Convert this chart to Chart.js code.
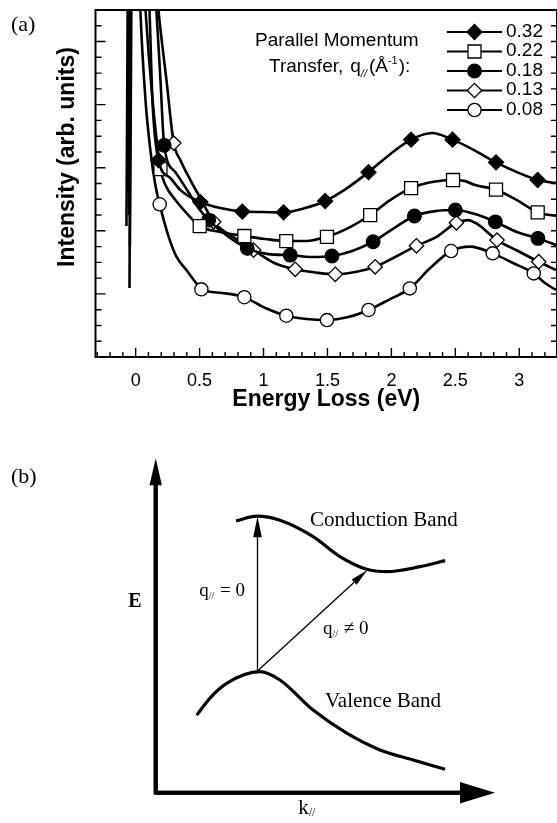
<!DOCTYPE html>
<html>
<head>
<meta charset="utf-8">
<script src="https://cdn.jsdelivr.net/npm/chart.js@4.4.1/dist/chart.umd.min.js"></script>
<style>
  body { margin: 0; background: #fff; }
  canvas { position: absolute; left: 0; }
  #spectra { top: 0; }
  #bands { top: 430px; }
</style>
</head>
<body>
<canvas id="spectra" width="557" height="430"></canvas>
<canvas id="bands" width="557" height="393"></canvas>
<script>
// ---- (a) loss spectra: energy loss (eV) vs intensity (arb. units) ----
const qLabels = ['0.32', '0.22', '0.18', '0.13', '0.08'];

const e032 = [-0.055, -0.04, 0.108, 0.131, 0.178, 0.272, 0.35, 0.428, 0.506, 0.662, 0.834, 0.99, 1.157, 1.326, 1.482, 1.654, 1.821, 1.99, 2.154, 2.318, 2.478, 2.646, 2.818, 2.982, 3.144, 3.287];
const i032 = [10.5, 40, 22, 16.3, 12.48, 11.34, 10.58, 10.14, 9.82, 9.44, 9.22, 9.19, 9.17, 9.44, 9.89, 10.71, 11.72, 12.86, 13.78, 14.2, 13.78, 13.12, 12.34, 11.72, 11.22, 11.03];
const m032 = [0.178, 0.506, 0.834, 1.157, 1.482, 1.821, 2.154, 2.478, 2.818, 3.144];

const e022 = [-0.072, -0.045, 0.077, 0.13, 0.194, 0.233, 0.311, 0.405, 0.501, 0.662, 0.85, 1.014, 1.178, 1.334, 1.496, 1.662, 1.834, 1.99, 2.154, 2.318, 2.482, 2.576, 2.654, 2.818, 2.982, 3.144, 3.287];
const i022 = [8.3, 40, 22, 16.5, 11.91, 10.9, 9.95, 9.06, 8.3, 7.92, 7.67, 7.48, 7.35, 7.35, 7.62, 8.17, 9.0, 9.95, 10.71, 11.09, 11.22, 11.15, 10.9, 10.61, 9.95, 9.17, 8.94];
const m022 = [0.194, 0.501, 0.85, 1.178, 1.496, 1.834, 2.154, 2.482, 2.818, 3.144];

const e018 = [-0.05, -0.025, 0.162, 0.194, 0.223, 0.311, 0.412, 0.491, 0.571, 0.717, 0.873, 1.037, 1.209, 1.373, 1.535, 1.693, 1.857, 2.021, 2.18, 2.342, 2.5, 2.654, 2.813, 2.982, 3.146, 3.287];
const i018 = [9.0, 40, 22, 17.55, 13.42, 11.72, 10.46, 9.44, 8.68, 7.67, 6.89, 6.52, 6.46, 6.34, 6.4, 6.72, 7.31, 8.17, 8.94, 9.25, 9.32, 9.06, 8.57, 7.92, 7.52, 7.1];
const m018 = [0.223, 0.571, 0.873, 1.209, 1.535, 1.857, 2.18, 2.5, 2.813, 3.146];

const e013 = [-0.045, -0.015, 0.178, 0.241, 0.298, 0.35, 0.428, 0.506, 0.61, 0.764, 0.922, 1.084, 1.248, 1.404, 1.561, 1.717, 1.873, 2.029, 2.196, 2.349, 2.508, 2.599, 2.67, 2.826, 2.99, 3.152, 3.287];
const i013 = [7.0, 40, 22, 17.55, 13.56, 12.48, 11.22, 10.08, 8.57, 7.6, 6.78, 5.96, 5.56, 5.36, 5.24, 5.39, 5.72, 6.34, 7.05, 7.6, 8.51, 8.68, 8.44, 7.41, 6.72, 6.04, 5.51];
const m013 = [0.298, 0.61, 0.922, 1.248, 1.561, 1.873, 2.196, 2.508, 2.826, 3.152];

const e008 = [-0.048, -0.03, 0.037, 0.077, 0.115, 0.154, 0.188, 0.254, 0.319, 0.397, 0.475, 0.514, 0.678, 0.85, 1.014, 1.178, 1.334, 1.496, 1.662, 1.821, 1.975, 2.144, 2.303, 2.467, 2.615, 2.792, 2.951, 3.113, 3.201, 3.287];
const i008 = [4.37, 40, 22, 16.29, 13.12, 10.9, 9.68, 7.73, 6.36, 5.51, 4.67, 4.29, 4.06, 3.79, 3.11, 2.62, 2.41, 2.34, 2.53, 2.98, 3.61, 4.35, 5.64, 6.72, 7.0, 6.57, 5.96, 5.3, 4.69, 4.25];
const m008 = [0.188, 0.514, 0.85, 1.178, 1.496, 1.821, 2.144, 2.467, 2.792, 3.113];

const xTickVals = [0, 0.5, 1, 1.5, 2, 2.5, 3];
const xTickLabels = ['0', '0.5', '1', '1.5', '2', '2.5', '3'];

// ---- (b) band schematic (k// vs E, arbitrary units) ----
const cbK = [2.37, 2.98, 3.66, 4.64, 5.43, 6.22, 6.81, 7.79, 8.53];
const cbE = [8.13, 8.27, 8.15, 7.66, 7.06, 6.68, 6.61, 6.76, 6.94];
const vbK = [1.21, 1.6, 2.09, 3.07, 3.66, 4.64, 5.63, 6.61, 7.59, 8.53];
const vbE = [2.32, 2.83, 3.27, 3.62, 3.37, 2.47, 1.78, 1.28, 0.98, 0.70];
const kAxisEnd = 10;
const eAxisEnd = 10;
const transStart = [3.0, 3.64];
const directEnd = [3.0, 8.27];
const indirectEnd = [6.24, 6.66];

const sans = '"Liberation Sans", Arial, Helvetica, sans-serif';
const serif = '"Liberation Serif", "Times New Roman", serif';

const series = [
  { label: qLabels[0], e: e032, v: i032, m: m032, style: 'rectRot', r: 7.5, fill: '#000' },
  { label: qLabels[1], e: e022, v: i022, m: m022, style: 'rect', r: 9.2, fill: '#fff' },
  { label: qLabels[2], e: e018, v: i018, m: m018, style: 'circle', r: 6.8, fill: '#000' },
  { label: qLabels[3], e: e013, v: i013, m: m013, style: 'rectRot', r: 7.2, fill: '#fff' },
  { label: qLabels[4], e: e008, v: i008, m: m008, style: 'circle', r: 6.6, fill: '#fff' }
];

function drawMarker(ctx, s, x, y) {
  ctx.fillStyle = s.fill;
  ctx.strokeStyle = '#000';
  ctx.lineWidth = 1.3;
  Chart.helpers.drawPoint(ctx, { pointStyle: s.style, radius: s.r, borderWidth: 1.3, rotation: 0 }, x, y);
}

// draws a row of text pieces (for sub/superscripts)
function drawRuns(ctx, x, y, runs) {
  ctx.textAlign = 'left';
  ctx.textBaseline = 'alphabetic';
  runs.forEach(r => {
    ctx.font = r.font;
    x += r.dx || 0;
    ctx.fillText(r.text, x, y + (r.dy || 0));
    x += ctx.measureText(r.text).width;
  });
}

// frame, inward ticks, legend and free text of panel (a)
const spectraDecor = {
  id: 'spectraDecor',
  afterDatasetsDraw(chart) {
    const { ctx, chartArea: a, scales: { x, y } } = chart;
    ctx.save();
    ctx.strokeStyle = '#000';
    ctx.fillStyle = '#000';
    ctx.lineWidth = 2;
    ctx.strokeRect(a.left, a.top, a.right - a.left, a.bottom - a.top);

    ctx.lineWidth = 1.4;
    ctx.beginPath();
    for (let k = Math.ceil(x.min * 10); k <= Math.floor(x.max * 10); k++) {
      const px = x.getPixelForValue(k / 10);
      const len = k % 5 === 0 ? 9 : 5;
      ctx.moveTo(px, a.bottom);
      ctx.lineTo(px, a.bottom - len);
    }
    for (let k = 1; k < y.max; k++) {
      const py = y.getPixelForValue(k);
      const len = k % 4 === 0 ? 10 : 6;
      ctx.moveTo(a.left, py);
      ctx.lineTo(a.left + len, py);
      ctx.moveTo(a.right, py);
      ctx.lineTo(a.right - 6, py);
    }
    ctx.stroke();

    // legend
    const rowY = [32, 51.5, 71, 90.5, 110];
    series.forEach((s, i) => {
      ctx.strokeStyle = '#000';
      ctx.lineWidth = 2;
      ctx.beginPath();
      ctx.moveTo(447, rowY[i]);
      ctx.lineTo(502, rowY[i]);
      ctx.stroke();
      drawMarker(ctx, s, 474.5, rowY[i]);
      ctx.fillStyle = '#000';
      ctx.font = '19px ' + sans;
      ctx.textAlign = 'left';
      ctx.textBaseline = 'middle';
      ctx.fillText(s.label, 506, rowY[i] - 0.5);
    });

    ctx.fillStyle = '#000';
    ctx.font = '19px ' + sans;
    ctx.textAlign = 'left';
    ctx.textBaseline = 'alphabetic';
    ctx.fillText('Parallel Momentum', 255, 46);
    drawRuns(ctx, 269, 72, [
      { text: 'Transfer,', font: '19px ' + sans },
      { text: 'q', font: '19px ' + sans, dx: 7 },
      { text: '//', font: 'italic 11px ' + sans, dy: 5 },
      { text: '(Å', font: '19px ' + sans, dx: 2 },
      { text: '-1', font: '11px ' + sans, dy: -8 },
      { text: '):', font: '19px ' + sans, dx: 1 }
    ]);

    // panel letter and rotated y title
    ctx.font = '22px ' + serif;
    ctx.textBaseline = 'middle';
    ctx.fillText('(a)', 11, 25);
    ctx.save();
    ctx.translate(68, 157);
    ctx.rotate(-Math.PI / 2);
    ctx.textAlign = 'center';
    ctx.font = 'bold 23px ' + sans;
    ctx.fillText('Intensity (arb. units)', 0, 0);
    ctx.restore();
    ctx.restore();
  }
};

new Chart(document.getElementById('spectra'), {
  type: 'scatter',
  data: {
    datasets: series.map(s => ({
      label: s.label,
      data: s.e.map((e, i) => ({ x: e, y: s.v[i] })),
      showLine: true,
      borderColor: '#000',
      borderWidth: 2.6,
      cubicInterpolationMode: 'monotone',
      pointStyle: s.style,
      pointBackgroundColor: s.fill,
      pointBorderColor: '#000',
      pointBorderWidth: 1.3,
      pointRadius: ctx => (ctx.raw && s.m.includes(ctx.raw.x)) ? s.r : 0,
      pointHoverRadius: 0
    }))
  },
  options: {
    responsive: false,
    animation: false,
    events: [],
    layout: { padding: { top: 10, right: 0, left: 0, bottom: 0 } },
    plugins: { legend: { display: false }, tooltip: { enabled: false } },
    scales: {
      x: {
        type: 'linear',
        min: -0.314,
        max: 3.295,
        afterBuildTicks: s => { s.ticks = xTickVals.map(v => ({ value: v })); },
        afterFit: s => { s.height = 73; },
        grid: { display: false, drawTicks: false },
        border: { display: false },
        ticks: {
          color: '#000',
          padding: 13,
          maxRotation: 0,
          font: { family: sans, size: 18 },
          callback: (v, i) => xTickLabels[i]
        },
        title: {
          display: true,
          text: 'Energy Loss (eV)',
          color: '#000',
          font: { family: sans, size: 23, weight: 'bold' },
          padding: { top: 0, bottom: 17 }
        }
      },
      y: {
        type: 'linear',
        min: 0,
        max: 22,
        afterFit: s => { s.width = 95.5; },
        grid: { display: false, drawTicks: false },
        border: { display: false },
        ticks: { display: false }
      }
    }
  },
  plugins: [spectraDecor]
});

// arrows and labels of panel (b)
function arrow(ctx, x0, y0, x1, y1, width, headLen, headHalf) {
  const ang = Math.atan2(y1 - y0, x1 - x0);
  const bx = x1 - Math.cos(ang) * headLen;
  const by = y1 - Math.sin(ang) * headLen;
  ctx.lineWidth = width;
  ctx.beginPath();
  ctx.moveTo(x0, y0);
  ctx.lineTo(bx, by);
  ctx.stroke();
  ctx.beginPath();
  ctx.moveTo(x1, y1);
  ctx.lineTo(bx + Math.sin(ang) * headHalf, by - Math.cos(ang) * headHalf);
  ctx.lineTo(bx - Math.sin(ang) * headHalf, by + Math.cos(ang) * headHalf);
  ctx.closePath();
  ctx.fill();
}

const bandDecor = {
  id: 'bandDecor',
  afterDatasetsDraw(chart) {
    const { ctx, scales: { x, y } } = chart;
    const px = v => x.getPixelForValue(v);
    const py = v => y.getPixelForValue(v);
    ctx.save();
    ctx.strokeStyle = '#000';
    ctx.fillStyle = '#000';
    ctx.lineCap = 'butt';
    ctx.lineJoin = 'miter';

    // axes with heads
    const ox = px(0), oy = py(0);
    ctx.lineWidth = 4;
    ctx.beginPath();
    ctx.moveTo(ox, py(eAxisEnd) + 26);
    ctx.lineTo(ox, oy);
    ctx.lineTo(px(kAxisEnd) - 34, oy);
    ctx.stroke();
    arrow(ctx, ox, oy, ox, py(eAxisEnd), 4, 27, 6.2);
    arrow(ctx, ox, oy, px(kAxisEnd), oy, 4, 35, 10.8);

    // transitions
    arrow(ctx, px(transStart[0]), py(transStart[1]), px(directEnd[0]), py(directEnd[1]), 1.3, 21, 4.3);
    arrow(ctx, px(transStart[0]), py(transStart[1]), px(indirectEnd[0]), py(indirectEnd[1]), 1.3, 18, 3.6);

    // labels
    ctx.fillStyle = '#000';
    ctx.font = '21px ' + serif;
    ctx.textAlign = 'left';
    ctx.textBaseline = 'middle';
    ctx.fillText('Conduction Band', px(4.55), py(8.15));
    ctx.fillText('Valence Band', px(4.99), py(2.74));
    ctx.textAlign = 'center';
    ctx.font = 'bold 20px ' + serif;
    ctx.fillText('E', px(-0.61), py(5.71));
    drawRuns(ctx, px(4.2), py(-0.42) + 7, [
      { text: 'k', font: '21px ' + serif },
      { text: '//', font: '12px ' + serif, dy: 2 }
    ]);
    drawRuns(ctx, px(1.28), py(6.06) + 6, [
      { text: 'q', font: '19px ' + serif },
      { text: '//', font: '10px ' + serif, dy: 3 },
      { text: ' = 0', font: '19px ' + serif, dx: 1 }
    ]);
    drawRuns(ctx, px(4.93), py(4.93) + 6, [
      { text: 'q', font: '19px ' + serif },
      { text: '//', font: '10px ' + serif, dy: 3 },
      { text: ' ≠ 0', font: '19px ' + serif, dx: 1 }
    ]);

    ctx.textAlign = 'left';
    ctx.textBaseline = 'middle';
    ctx.font = '22px ' + serif;
    ctx.fillText('(b)', 11, 47);
    ctx.restore();
  }
};

new Chart(document.getElementById('bands'), {
  type: 'scatter',
  data: {
    datasets: [
      { data: cbK.map((k, i) => ({ x: k, y: cbE[i] })) },
      { data: vbK.map((k, i) => ({ x: k, y: vbE[i] })) }
    ].map(d => Object.assign(d, {
      showLine: true,
      borderColor: '#000',
      borderWidth: 3.2,
      pointRadius: 0,
      cubicInterpolationMode: 'monotone',
      borderCapStyle: 'butt'
    }))
  },
  options: {
    responsive: false,
    animation: false,
    events: [],
    layout: { padding: 0 },
    plugins: { legend: { display: false }, tooltip: { enabled: false } },
    scales: {
      x: { type: 'linear', display: false, min: -4.589, max: 11.827 },
      y: { type: 'linear', display: false, min: -0.906, max: 10.846 }
    }
  },
  plugins: [bandDecor]
});
</script>
</body>
</html>
